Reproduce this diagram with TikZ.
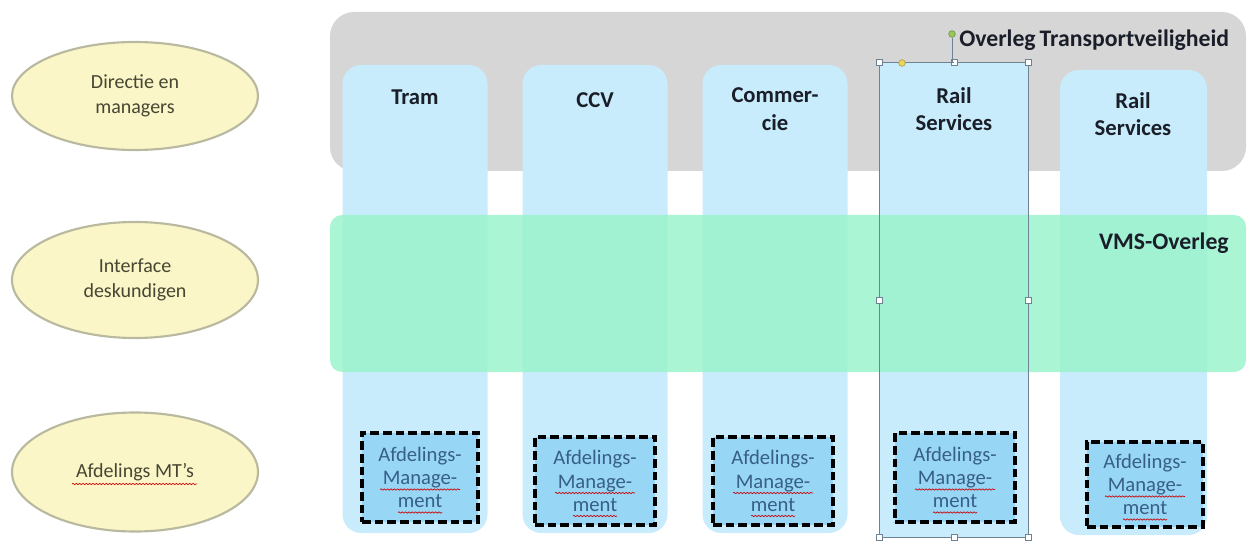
\documentclass[tikz,border=0pt]{standalone}
\usepackage{fontspec}
\setmainfont{Carlito}
\usetikzlibrary{shapes.geometric,decorations.pathmorphing}

\definecolor{bandgray}{RGB}{214,214,214}
\definecolor{colblue}{RGB}{200,236,251}
\definecolor{mint}{RGB}{155,243,205}
\definecolor{cream}{RGB}{251,246,200}
\definecolor{creamedge}{RGB}{185,185,160}
\definecolor{mgmtblue}{RGB}{152,214,246}
\definecolor{mgmttext}{RGB}{55,95,135}
\definecolor{roletext}{RGB}{70,70,50}
\definecolor{titletext}{RGB}{25,30,40}
\definecolor{selline}{RGB}{110,130,150}
\definecolor{rotgreen}{RGB}{150,200,90}
\definecolor{adjyellow}{RGB}{235,215,90}

\begin{document}
\begin{tikzpicture}[x=0.75pt,y=-0.75pt,
  sized/.style 2 args={minimum width=#1*0.75pt, minimum height=#2*0.75pt, inner sep=0pt},
  role/.style={ellipse, draw=creamedge, line width=1.6pt, fill=cream, text=roletext,
               font=\fontsize{15}{19}\selectfont, align=center},
  band/.style={rectangle, rounded corners=18pt, fill=bandgray},
  vmsband/.style={rectangle, rounded corners=9pt, fill=mint, fill opacity=0.85},
  column/.style={rectangle, rounded corners=14pt, fill=colblue},
  coltitle/.style={font=\fontsize{17}{20.5}\selectfont\bfseries, text=titletext, align=center},
  bandlabel/.style={font=\fontsize{17.8}{20}\selectfont\bfseries, text=titletext, inner sep=0pt},
  mgmt/.style={rectangle, draw=black, line width=2.4pt, dash pattern=on 6.5pt off 3pt,
               fill=mgmtblue, text=mgmttext, font=\fontsize{15.5}{17.5}\selectfont, align=center},
  handle/.style={rectangle, draw=selline, fill=white, line width=0.5pt, minimum size=4.5pt, inner sep=0pt},
  spell/.style={draw=red!80!black, line width=0.5pt, decorate,
                decoration={snake, amplitude=0.5pt, segment length=2.5pt}}
]
\useasboundingbox (0,0) rectangle (1251,541);

% Overleg Transportveiligheid band
\node[band, sized={916}{159}] (otv) at (788,91.5) {};

% department columns
\node[column, sized={145}{468}] (tram) at (415,299) {};
\node[column, sized={145}{468}] (ccv)  at (595,299) {};
\node[column, sized={145}{468}] (com)  at (775,299) {};
\node[column, rounded corners=3pt, sized={148}{474}] (rs1) at (954,300) {};
\node[column, sized={147}{465}] (rs2) at (1133.5,302.5) {};

% VMS-Overleg band
\node[vmsband, sized={916}{157}] (vms) at (788,293.5) {};

% column titles
\node[coltitle] (ttram) at (415,97)  {Tram};
\node[coltitle] (tccv)  at (595,100) {CCV};
\node[coltitle] (tcom)  at (775,109) {Commer-\\cie};
\node[coltitle] (trs1)  at (954,109) {Rail\\Services};
\node[coltitle] (trs2)  at (1133,114) {Rail\\Services};

% band labels
\node[bandlabel, anchor=base west] (lotv) at (959,47) {Overleg\,Transportveiligheid};
\node[bandlabel, anchor=base east] (lvms) at (1229,250) {VMS-Overleg};

% department management boxes
\node[mgmt, sized={116}{89}] (m1) at (420,477.5)  {Afdelings-\\Manage-\\ment};
\node[mgmt, sized={120}{88}] (m2) at (595,481)    {Afdelings-\\Manage-\\ment};
\node[mgmt, sized={120}{88}] (m3) at (773,481)    {Afdelings-\\Manage-\\ment};
\node[mgmt, sized={120}{89}] (m4) at (955,477.5)  {Afdelings-\\Manage-\\ment};
\node[mgmt, sized={116}{85}] (m5) at (1145,484.5) {Afdelings-\\Manage-\\ment};

% spelling marks under the hyphenated words
\foreach \m in {m1,m2,m3,m4,m5}{
  \draw[spell] ([shift={(-40,12)}]\m.center) -- ([shift={(40,12)}]\m.center);
  \draw[spell] ([shift={(-22,35)}]\m.center) -- ([shift={(22,35)}]\m.center);
}

% selection frame around the Rail Services column
\draw[selline, line width=0.6pt] (rs1.north west) rectangle (rs1.south east);
\foreach \a in {north west,north,north east,west,east,south west,south,south east}{
  \node[handle] at (rs1.\a) {};
}
\node[circle, draw=rotgreen!70!black, fill=rotgreen, minimum size=5pt, inner sep=0pt] (rot) at (952,34) {};
\draw[selline, line width=0.6pt] (rot) |- (rs1.north);
\node[circle, draw=adjyellow!70!black, fill=adjyellow, minimum size=5pt, inner sep=0pt] (adj) at (902,63) {};

% role ellipses
\node[role, sized={246}{108}] (e1) at (135,96)  {Directie en\\managers};
\node[role, sized={246}{116}] (e2) at (135,280) {Interface\\deskundigen};
\node[role, sized={246}{119}] (e3) at (135,472) {Afdelings MT's};
\draw[spell] ([shift={(-63,12)}]e3.center) -- ([shift={(62,12)}]e3.center);

\end{tikzpicture}
\end{document}
